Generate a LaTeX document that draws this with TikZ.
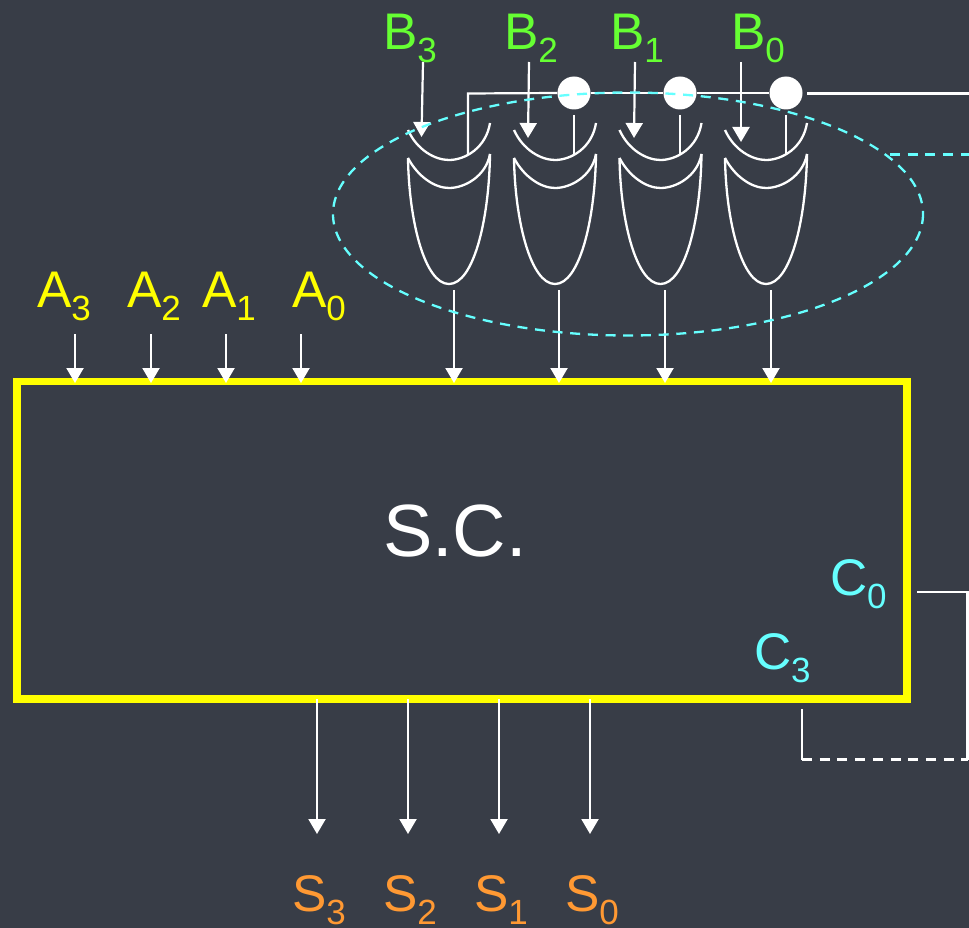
\documentclass[tikz,border=0pt]{standalone}
\usepackage{fontspec}
\setmainfont{Liberation Sans}
\usetikzlibrary{arrows.meta}
\definecolor{bgc}{HTML}{383D47}
\definecolor{lyel}{HTML}{FFFF00}
\definecolor{lgrn}{HTML}{66FF33}
\definecolor{lcya}{HTML}{66FFFF}
\definecolor{lora}{HTML}{FF9933}
\newcommand{\lab}[2]{\fontsize{51.5}{52}\selectfont #1\raisebox{-13pt}{\fontsize{35}{35}\selectfont #2}}
\tikzset{
  x=1pt,y=-1pt,
  wire/.style={draw=white,line width=2.2pt},
  arr/.style={wire,-{Triangle[length=15pt,width=17pt,fill=white]}},
  gateline/.style={draw=white,line width=2.3pt},
  tag/.style={anchor=base west,inner sep=0pt,outer sep=0pt},
  dot/.style={circle,fill=white,minimum size=33pt,inner sep=0pt},
  cdash/.style={draw=lcya,line width=2.3pt,dash pattern=on 10pt off 7.7pt},
  wdash/.style={draw=white,line width=2.2pt,dash pattern=on 10pt off 7.7pt},
  xorgate/.pic={
    \draw[gateline] (0,0) .. controls (9,20) and (27,30) .. (41,30) .. controls (57,30) and (78,18) .. (82,-7);
    \draw[gateline] (0,28) .. controls (10,47) and (27,58) .. (41,58) .. controls (57,58) and (78,46) .. (82,24);
    \draw[gateline] (0,28) .. controls (1,92) and (17,154) .. (41,154) .. controls (65,154) and (81,92) .. (82,24);
  }
}
\begin{document}
\begin{tikzpicture}
\useasboundingbox[fill=bgc] (0,0) rectangle (969,928);

% gates
\pic at (408,130) {xorgate};
\pic at (514,130) {xorgate};
\pic at (619.5,130) {xorgate};
\pic at (725,130) {xorgate};

% main box
\node[draw=lyel,line width=7.5pt,minimum width=890pt,minimum height=317.5pt,inner sep=0pt] (sc) at (462,540.25) {};
\node[anchor=base,inner sep=0pt,font=\fontsize{74}{74}\selectfont,text=white] (sctext) at (455,556) {S.C.};

% control dots and gate inputs
\node[dot] (d1) at (574,93) {};
\node[dot] (d2) at (680,93) {};
\node[dot] (d3) at (786,93) {};
\coordinate (i0) at (468,155);
\coordinate (i1) at (574,155);
\coordinate (i2) at (680,155);
\coordinate (i3) at (786,155);
\coordinate (corner) at (468,93.5);
\coordinate (rt) at (969,93.5);
\draw[wire] (i0) -- (corner) -- (d1.west);
\draw[wire] (d1) -- (d2);
\draw[wire] (d2) -- (d3);
\draw[wire] (807,93.5) -- (rt);
\draw[wire] (574,115) -- (i1);
\draw[wire] (680,115) -- (i2);
\draw[wire] (786,115) -- (i3);

% labels
\node[tag,text=lgrn] (b3) at (383,50) {\lab{B}{3}};
\node[tag,text=lgrn] (b2) at (504,50) {\lab{B}{2}};
\node[tag,text=lgrn] (b1) at (610,50) {\lab{B}{1}};
\node[tag,text=lgrn] (b0) at (731,50) {\lab{B}{0}};
\node[tag,text=lyel] (a3) at (37,307) {\lab{A}{3}};
\node[tag,text=lyel] (a2) at (127,307) {\lab{A}{2}};
\node[tag,text=lyel] (a1) at (202,307) {\lab{A}{1}};
\node[tag,text=lyel] (a0) at (292,307) {\lab{A}{0}};
\node[tag,text=lora] (s3) at (292,911) {\lab{S}{3}};
\node[tag,text=lora] (s2) at (383,911) {\lab{S}{2}};
\node[tag,text=lora] (s1) at (474,911) {\lab{S}{1}};
\node[tag,text=lora] (s0) at (565,911) {\lab{S}{0}};
\node[tag,text=lcya] (c0) at (830,595) {\lab{C}{0}};
\node[tag,text=lcya] (c3) at (754,669) {\lab{C}{3}};

% B arrows
\coordinate (b3s) at (423,62); \coordinate (b3e) at (421.5,137);
\coordinate (b2s) at (529,62); \coordinate (b2e) at (528,138);
\coordinate (b1s) at (635,62); \coordinate (b1e) at (634,138);
\coordinate (b0s) at (741,62); \coordinate (b0e) at (741,142);
\foreach \n in {b3,b2,b1,b0} \draw[arr] (\n s) -- (\n e);

% A arrows
\foreach \n/\x in {a3/75,a2/151,a1/226,a0/301} {
  \coordinate (\n s) at (\x,334); \coordinate (\n e) at (\x,383);
  \draw[arr] (\n s) -- (\n e);
}
% gate outputs
\foreach \n/\x in {o3/454,o2/559,o1/665,o0/771} {
  \coordinate (\n s) at (\x,290); \coordinate (\n e) at (\x,383);
  \draw[arr] (\n s) -- (\n e);
}
% S arrows
\foreach \n/\x in {s3/317,s2/408,s1/499,s0/590} {
  \coordinate (\n t) at (\x,699); \coordinate (\n e) at (\x,834);
  \draw[arr] (\n t) -- (\n e);
}

% carry
\coordinate (c0s) at (917,592);
\coordinate (c0c) at (967.5,592);
\coordinate (c0b) at (967.5,759.5);
\coordinate (c3s) at (802,709);
\coordinate (c3c) at (802,759.5);
\draw[wire] (c0s) -- (c0c) -- (c0b);
\draw[wire] (c3s) -- (c3c);
\draw[wdash] (c3c) -- (c0b);

% dashed ellipse
\coordinate (ell) at (628,214);
\draw[cdash] (ell) ellipse [x radius=295,y radius=121.5];
\coordinate (ee) at (890,154.5);
\coordinate (er) at (969,154.5);
\draw[cdash] (ee) -- (er);
\end{tikzpicture}
\end{document}
